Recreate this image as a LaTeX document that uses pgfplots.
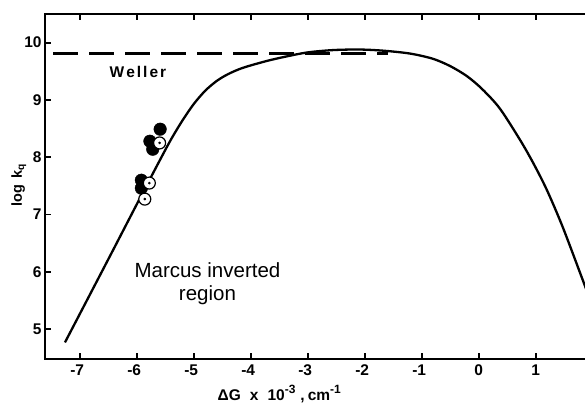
\documentclass[border=0pt]{standalone}
\usepackage{fontspec}
\setmainfont{Liberation Sans}
\usepackage{pgfplots}
\pgfplotsset{compat=1.18}
\newcommand{\supx}[1]{\raisebox{7pt}{\fontsize{12}{12}\selectfont #1}}
\begin{document}
\begin{tikzpicture}
\begin{axis}[
  scale only axis, width=546.6pt, height=345.5pt,
  xmin=-7.61, xmax=1.98, ymin=4.477, ymax=10.505,
  xtick={-7,-6,-5,-4,-3,-2,-1,0,1},
  xticklabels={\llap{-}7,\llap{-}6,\llap{-}5,\llap{-}4,\llap{-}3,\llap{-}2,\llap{-}1,0,1},
  ytick={5,6,7,8,9,10}, yticklabels={5,6,7,8,9,10},
  tick align=inside, major tick length=6pt,
  axis line style={line width=1.9pt},
  every tick/.style={line width=1.8pt, black},
  ticklabel style={font=\fontsize{15.5}{17}\selectfont\bfseries},
  xticklabel style={yshift=-2pt},
  clip=false,
]
% Weller limit
\addplot[black, line width=2.3pt, dash pattern=on 25pt off 11pt]
  coordinates {(-7.47,9.81) (-1.6,9.81)};
% theoretical curve
\addplot[black, line width=2.3pt, smooth] coordinates {
(-7.26,4.77) (-6.5,6.22) (-6.0,7.18) (-5.6,7.94) (-5.4,8.31) (-5.2,8.64)
(-5.0,8.93) (-4.8,9.16) (-4.6,9.33) (-4.4,9.45) (-4.14,9.56) (-3.72,9.68)
(-3.37,9.76) (-3.0,9.83) (-2.56,9.87) (-2.1,9.88) (-1.68,9.86) (-1.21,9.81)
(-0.81,9.72) (-0.5,9.59) (-0.2,9.41) (0.07,9.18) (0.37,8.85) (0.72,8.31)
(0.95,7.91) (1.19,7.44) (1.47,6.79) (1.82,5.87) (1.95,5.52)};
% filled points
\addplot[only marks, mark=*, mark size=6.3pt, black] coordinates {
(-5.59,8.49) (-5.77,8.28) (-5.72,8.14) (-5.92,7.60) (-5.92,7.46)};
% open points with centre dot
\addplot[only marks, mark=*, mark size=6pt, draw=black, fill=white,
  mark options={line width=1.2pt, fill=white}] coordinates {
(-5.60,8.25) (-5.78,7.55) (-5.86,7.27)};
\addplot[only marks, mark=*, mark size=1.1pt, black] coordinates {
(-5.60,8.25) (-5.78,7.55) (-5.86,7.27)};
% texts
\node[font=\fontsize{15.5}{17}\selectfont\bfseries] at (axis cs:-5.98,9.49)
  {W\hspace{2pt}e\hspace{2pt}l\hspace{2pt}l\hspace{2pt}e\hspace{2pt}r};
\node[font=\fontsize{20.5}{23}\selectfont, align=center] at (axis cs:-4.76,5.80)
  {Marcus inverted\\region};
\node[rotate=90, font=\fontsize{14.5}{16}\selectfont\bfseries] at (axis cs:-8.07,7.51)
  {log\hspace{6pt}k\textsubscript{q}};
\node[anchor=base, font=\fontsize{15.5}{17}\selectfont\bfseries] at (axis cs:-3.50,3.75)
  {ΔG\hspace{9pt}x\hspace{9pt}10\supx{-3}\hspace{5pt},\hspace{3pt}cm\supx{-1}};
\coordinate (bbsw) at (axis cs:-8.40,3.679);
\coordinate (bbne) at (axis cs:1.864,10.744);
\end{axis}
\pgfresetboundingbox
\useasboundingbox (bbsw) rectangle (bbne);
\end{tikzpicture}
\end{document}
